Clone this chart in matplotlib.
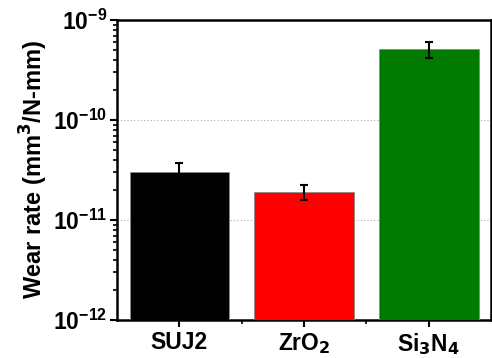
import numpy as np
import matplotlib.pyplot as plt
from matplotlib.ticker import LogLocator, NullFormatter, FixedLocator

plt.rcParams['font.family'] = ['Liberation Sans', 'DejaVu Sans']
plt.rcParams['font.weight'] = 'bold'
plt.rcParams['mathtext.default'] = 'bf'

# Data
materials = ['SUJ2', 'ZrO$_2$', 'Si$_3$N$_4$']
wear_rate = [3.0e-11, 1.9e-11, 5.1e-10]
wear_err = [0.7e-11, 0.33e-11, 0.9e-10]
colors = ['#000000', '#ff0000', '#007a00']

fig = plt.figure(figsize=(4.92, 3.58), dpi=100)
ax = fig.add_axes([0.238, 0.106, 0.76, 0.838])

x = np.arange(len(materials))
ax.bar(x, wear_rate, width=0.8, color=colors, edgecolor='#888888', linewidth=0.6,
       yerr=wear_err, error_kw=dict(ecolor='black', elinewidth=1.5, capsize=3, capthick=1.5),
       zorder=3)

ax.set_yscale('log')
ax.set_ylim(1e-12, 1e-9)
ax.set_xlim(-0.5, 2.5)
ax.yaxis.set_major_locator(LogLocator(base=10, numticks=10))
ax.yaxis.set_minor_locator(LogLocator(base=10, subs=np.arange(2, 10), numticks=10))
ax.yaxis.set_minor_formatter(NullFormatter())

ax.set_xticks(x)
ax.set_xticklabels(materials)
ax.xaxis.set_minor_locator(FixedLocator([0.5, 1.5]))

ax.grid(axis='y', which='major', linestyle=(0, (1, 2)), color='#aaaaaa', linewidth=0.8, zorder=0)

for s in ax.spines.values():
    s.set_linewidth(1.8)
ax.tick_params(axis='both', which='major', direction='out', length=5, width=1.5, labelsize=16.5)
ax.tick_params(axis='both', which='minor', direction='out', length=3, width=1.2)
ax.tick_params(axis='x', pad=3)
ax.tick_params(axis='y', pad=2)

ax.set_ylabel('Wear rate (mm$^3$/N-mm)', fontsize=17, fontweight='bold', labelpad=2)

fig.savefig('out.png', dpi=100)
